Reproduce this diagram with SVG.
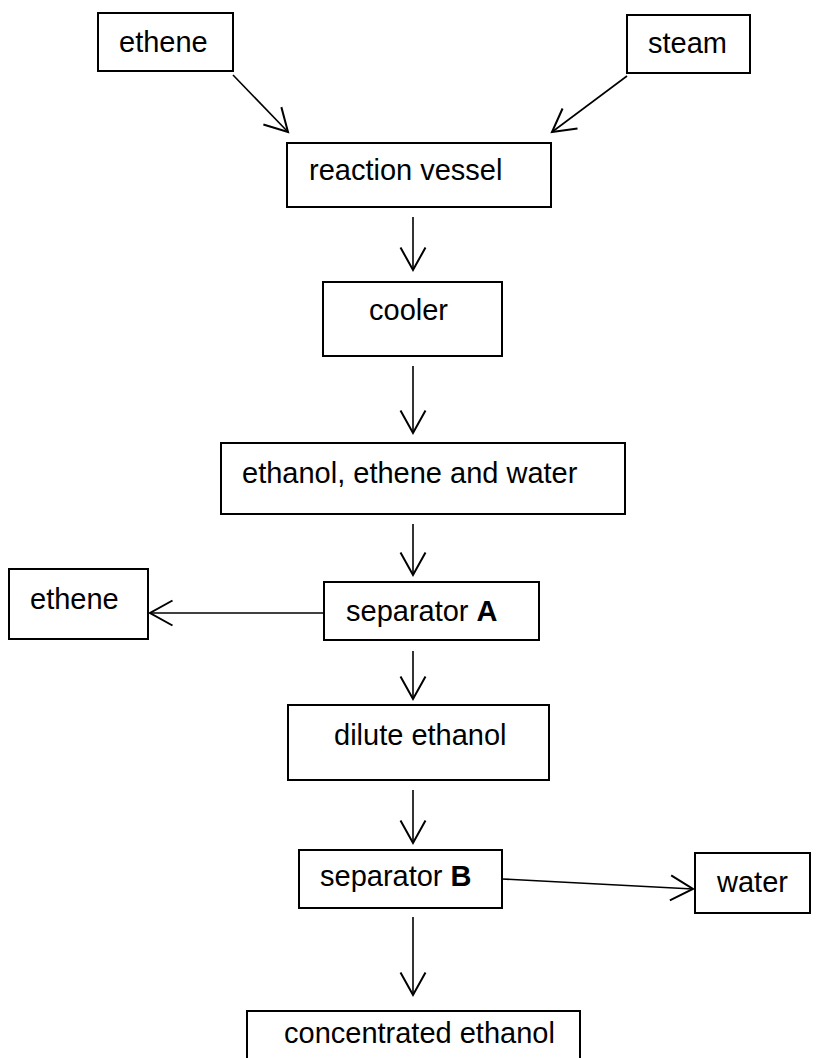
<svg xmlns="http://www.w3.org/2000/svg" width="819" height="1058" viewBox="0 0 819 1058">
<style>
.box{fill:#fff;stroke:#000;stroke-width:2}
.lbl{font-family:"Liberation Sans",Arial,sans-serif;font-size:29px;fill:#000}
.con{fill:none;stroke:#000;stroke-width:1.6}
</style>
<defs>
<marker id="arr" markerUnits="userSpaceOnUse" markerWidth="30" markerHeight="30" viewBox="-20 -12 22 24" refX="0" refY="0" orient="auto" overflow="visible">
<path d="M-18,-10 L0,0 L-18,10" fill="none" stroke="#000" stroke-width="1.6"/>
</marker>
</defs>
<rect width="819" height="1058" fill="#fff"/>
<g id="n-ethene-top"><rect class="box" x="98" y="13" width="135" height="58"/><text class="lbl" x="119" y="52">ethene</text></g>
<g id="n-steam"><rect class="box" x="627" y="15" width="123" height="58"/><text class="lbl" x="648" y="53">steam</text></g>
<g id="n-reaction"><rect class="box" x="287" y="143" width="264" height="64"/><text class="lbl" x="309" y="180">reaction vessel</text></g>
<g id="n-cooler"><rect class="box" x="323" y="282" width="179" height="74"/><text class="lbl" x="369" y="320">cooler</text></g>
<g id="n-mix"><rect class="box" x="221" y="443" width="404" height="71"/><text class="lbl" x="242" y="483">ethanol, ethene and water</text></g>
<g id="n-sepA"><rect class="box" x="324" y="582" width="215" height="58"/><text class="lbl" x="346" y="621">separator <tspan font-weight="bold">A</tspan></text></g>
<g id="n-ethene-out"><rect class="box" x="9" y="569" width="139" height="70"/><text class="lbl" x="30" y="609">ethene</text></g>
<g id="n-dilute"><rect class="box" x="288" y="705" width="261" height="75"/><text class="lbl" x="334" y="745">dilute ethanol</text></g>
<g id="n-sepB"><rect class="box" x="299" y="850" width="203" height="58"/><text class="lbl" x="320" y="886">separator <tspan font-weight="bold">B</tspan></text></g>
<g id="n-water"><rect class="box" x="695" y="853" width="115" height="60"/><text class="lbl" x="717" y="892">water</text></g>
<g id="n-conc"><rect class="box" x="247" y="1011" width="333" height="70"/><text class="lbl" x="284" y="1043">concentrated ethanol</text></g>
<g id="connectors">
<line class="con" x1="233" y1="75" x2="288" y2="132" marker-end="url(#arr)"/>
<line class="con" x1="627" y1="76" x2="552" y2="132" marker-end="url(#arr)"/>
<line class="con" x1="413" y1="217" x2="413" y2="270" marker-end="url(#arr)"/>
<line class="con" x1="413" y1="366" x2="413" y2="433" marker-end="url(#arr)"/>
<line class="con" x1="413" y1="524" x2="413" y2="575" marker-end="url(#arr)"/>
<line class="con" x1="324" y1="613" x2="150" y2="613" marker-end="url(#arr)"/>
<line class="con" x1="413" y1="651" x2="413" y2="699" marker-end="url(#arr)"/>
<line class="con" x1="413" y1="790" x2="413" y2="843" marker-end="url(#arr)"/>
<line class="con" x1="502" y1="879" x2="693" y2="889" marker-end="url(#arr)"/>
<line class="con" x1="413" y1="917" x2="413" y2="995" marker-end="url(#arr)"/>
</g>
</svg>
